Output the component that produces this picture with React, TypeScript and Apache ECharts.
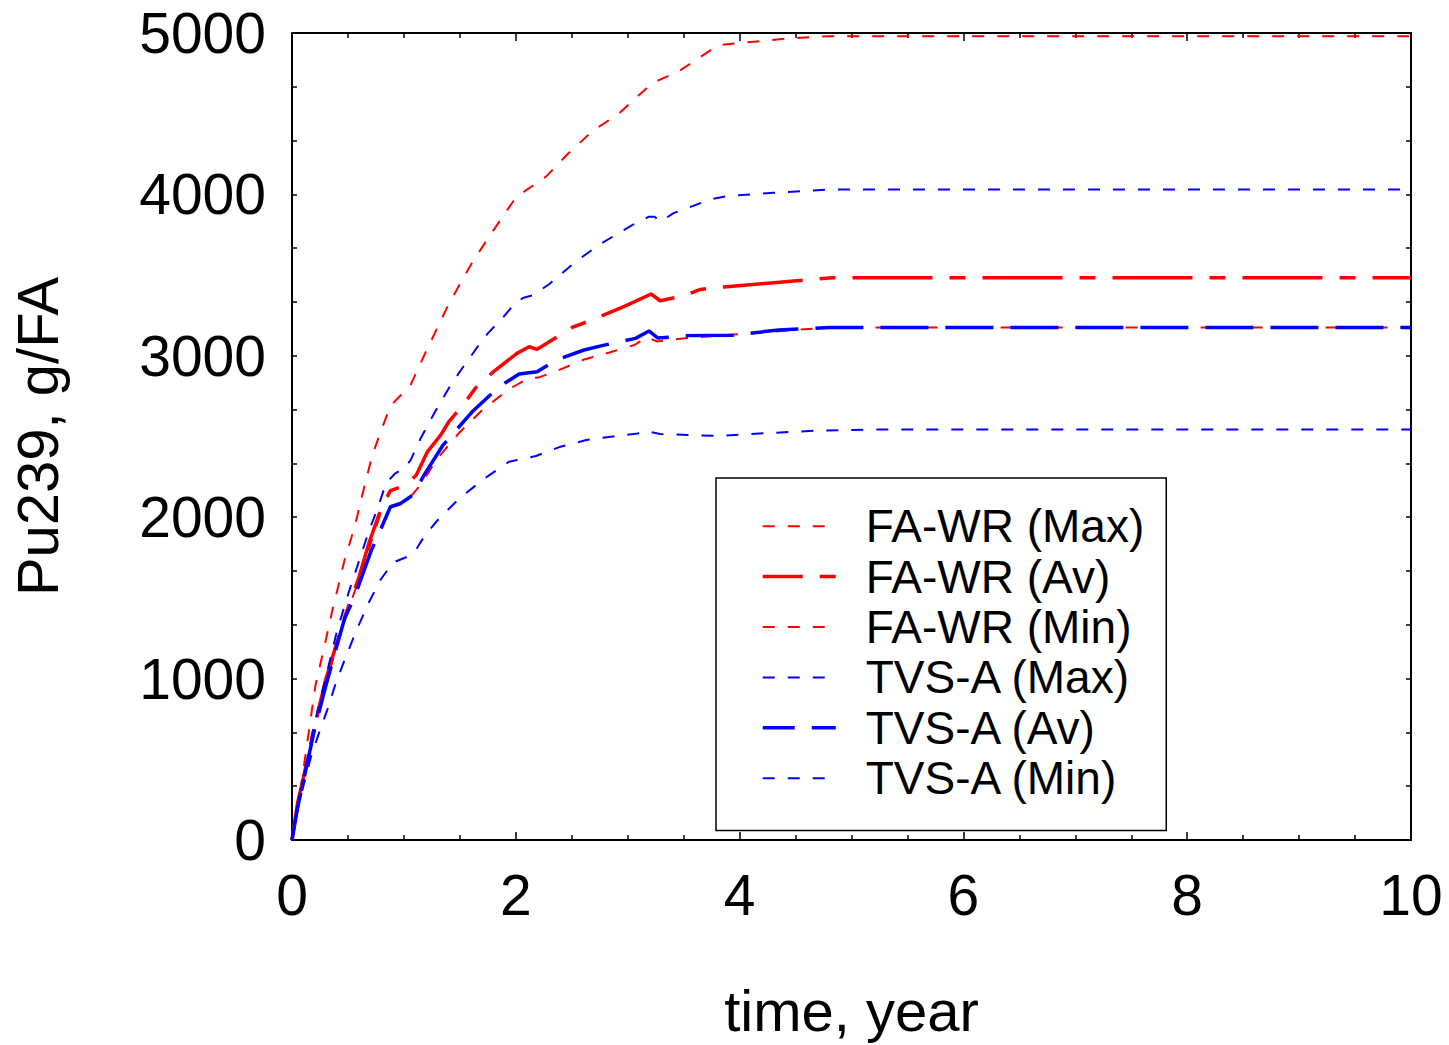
import React, { useEffect, useRef } from "react";
import * as echarts from "echarts";

// time (year), Pu239 (g/FA)
const faWrMax: [number, number][] = [
  [0, 0], [0.08, 330], [0.15, 670], [0.21, 960], [0.28, 1170], [0.36, 1420], [0.47, 1735],
  [0.56, 1940], [0.65, 2200], [0.72, 2390], [0.82, 2580], [0.88, 2690], [0.95, 2740],
  [1.06, 2820], [1.2, 3030], [1.4, 3320], [1.62, 3590], [1.88, 3860], [2.0, 3980],
  [2.1, 4030], [2.27, 4110], [2.47, 4255], [2.69, 4395], [2.92, 4500], [3.22, 4690],
  [3.45, 4760], [3.81, 4925], [4.41, 4965], [4.8, 4980], [10, 4980],
];
const faWrAv: [number, number][] = [
  [0, 0], [0.05, 230], [0.1, 380], [0.2, 700], [0.3, 990], [0.4, 1220], [0.48, 1400],
  [0.59, 1610], [0.69, 1845], [0.8, 2060], [0.88, 2165], [1.02, 2200], [1.11, 2260],
  [1.21, 2405], [1.33, 2510], [1.4, 2590], [1.54, 2705], [1.64, 2800], [1.79, 2895],
  [2.01, 3015], [2.12, 3056], [2.19, 3040], [2.51, 3178], [2.67, 3219], [2.97, 3306],
  [3.21, 3383], [3.29, 3341], [3.49, 3370], [3.65, 3411], [3.86, 3427], [4.83, 3484],
  [10, 3484],
];
const faWrMin: [number, number][] = [
  [0, 0], [0.05, 220], [0.1, 370], [0.2, 680], [0.3, 960], [0.4, 1200], [0.5, 1420],
  [0.6, 1620], [0.7, 1830], [0.8, 2040], [0.88, 2060], [0.97, 2080], [1.05, 2120],
  [1.15, 2200], [1.29, 2355], [1.49, 2520], [1.7, 2664], [1.93, 2788], [2.04, 2833],
  [2.12, 2860], [2.2, 2865], [2.37, 2907], [2.61, 2977], [2.83, 3019], [3.06, 3067],
  [3.17, 3117], [3.26, 3089], [3.53, 3110], [3.8, 3125], [4.8, 3175], [10, 3175],
];
const tvsAMax: [number, number][] = [
  [0, 0], [0.05, 200], [0.1, 380], [0.2, 720], [0.3, 1000], [0.4, 1290], [0.5, 1520],
  [0.6, 1730], [0.68, 1900], [0.77, 2065], [0.84, 2210], [0.92, 2270], [1.0, 2302],
  [1.06, 2354], [1.15, 2489], [1.27, 2643], [1.4, 2798], [1.51, 2912], [1.67, 3067],
  [1.75, 3139], [1.87, 3226], [2.0, 3330], [2.07, 3360], [2.16, 3377], [2.3, 3445],
  [2.52, 3575], [2.74, 3686], [3.04, 3810], [3.19, 3862], [3.24, 3862], [3.29, 3831],
  [3.41, 3884], [3.74, 3969], [3.89, 3990], [4.3, 4010], [4.78, 4030], [10, 4030],
];
const tvsAAv: [number, number][] = [
  [0, 0], [0.05, 200], [0.1, 360], [0.2, 680], [0.3, 950], [0.4, 1200], [0.47, 1372],
  [0.56, 1508], [0.71, 1797], [0.79, 1921], [0.88, 2065], [0.97, 2085], [1.08, 2137],
  [1.18, 2261], [1.35, 2447], [1.48, 2550], [1.61, 2653], [1.85, 2808], [2.03, 2887],
  [2.19, 2901], [2.36, 2974], [2.61, 3036], [2.77, 3063], [3.07, 3108], [3.19, 3154],
  [3.27, 3110], [3.53, 3125], [3.94, 3128], [4.35, 3160], [4.8, 3175], [10, 3175],
];
const tvsAMin: [number, number][] = [
  [0, 0], [0.02, 100], [0.1, 330], [0.17, 516], [0.24, 661], [0.32, 815], [0.39, 970],
  [0.47, 1115], [0.57, 1290], [0.69, 1476], [0.79, 1611], [0.9, 1718], [0.97, 1738],
  [1.05, 1760], [1.11, 1800], [1.18, 1879], [1.29, 1973], [1.49, 2113], [1.72, 2240],
  [1.94, 2344], [2.18, 2379], [2.4, 2437], [2.63, 2478], [2.85, 2499], [3.09, 2519],
  [3.16, 2535], [3.29, 2515], [3.83, 2503], [4.07, 2515], [4.66, 2535], [5.2, 2544],
  [10, 2544],
];

const seriesNames = [
  "FA-WR (Max)", "FA-WR (Av)", "FA-WR (Min)",
  "TVS-A (Max)", "TVS-A (Av)", "TVS-A (Min)",
];
const xTitle = "time, year";
const yTitle = "Pu239, g/FA";

const RED = "#ff0000";
const BLUE = "#0000ff";
const FONT = "Liberation Sans, Arial, sans-serif";

export default function App() {
  const ref = useRef<HTMLDivElement>(null);
  useEffect(() => {
    if (!ref.current) return;
    const chart = echarts.init(ref.current, undefined, { renderer: "svg" });
    const thin = [12, 13];
    const avRed = [80, 17, 16, 17];
    const avBlue = [48, 17];
    const dataSets = [faWrMax, faWrAv, faWrMin, tvsAMax, tvsAAv, tvsAMin];
    const styles = [
      { color: RED, width: 2, type: thin },
      { color: RED, width: 3.5, type: avRed },
      { color: RED, width: 2, type: thin },
      { color: BLUE, width: 2, type: thin },
      { color: BLUE, width: 3.5, type: avBlue },
      { color: BLUE, width: 2, type: thin },
    ];
    const legendDash = [thin, [40, 17, 16, 17], thin, thin, [32, 17], thin];
    const axisCommon = {
      axisLine: { show: true, onZero: false, lineStyle: { color: "#000", width: 2 } },
      splitLine: { show: false },
    };
    const labelStyle = { color: "#000", fontSize: 57, fontFamily: FONT };
    const titleStyle = { color: "#000", fontSize: 58, fontFamily: FONT };
    chart.setOption({
      animation: false,
      backgroundColor: "#fff",
      grid: { left: 291, top: 33, right: 38, bottom: 205, containLabel: false },
      legend: {
        orient: "vertical",
        left: 716,
        top: 478,
        padding: [23, 22, 27, 45],
        borderColor: "#000",
        borderWidth: 1.5,
        itemWidth: 73,
        itemHeight: 14,
        itemGap: 0,
        selectedMode: false,
        textStyle: {
          color: "#000",
          fontSize: 46,
          fontFamily: FONT,
          lineHeight: 50.4,
          padding: [0, 0, 0, 25],
        },
        data: seriesNames.map((n, i) => ({
          name: n,
          itemStyle: { opacity: 0 },
          lineStyle: { type: legendDash[i], width: styles[i].width, color: styles[i].color, cap: "butt" },
        })),
      },
      xAxis: [
        {
          type: "value",
          min: 0,
          max: 10,
          interval: 2,
          position: "bottom",
          ...axisCommon,
          axisTick: { show: true, inside: true, length: 8, lineStyle: { color: "#000", width: 1.5 } },
          minorTick: { show: true, splitNumber: 4, length: 5, lineStyle: { color: "#000", width: 1.5 } },
          axisLabel: { ...labelStyle, margin: 26, formatter: (v: number) => String(v) },
          name: xTitle,
          nameLocation: "middle",
          nameGap: 141,
          nameTextStyle: titleStyle,
        },
        {
          type: "value",
          min: 0,
          max: 10,
          interval: 2,
          position: "top",
          ...axisCommon,
          axisTick: { show: true, inside: true, length: 8, lineStyle: { color: "#000", width: 1.5 } },
          minorTick: { show: true, splitNumber: 4, length: 5, lineStyle: { color: "#000", width: 1.5 } },
          axisLabel: { show: false },
        },
      ],
      yAxis: [
        {
          type: "value",
          min: 0,
          max: 5000,
          interval: 1000,
          position: "left",
          ...axisCommon,
          axisTick: { show: true, inside: true, length: 5, lineStyle: { color: "#000", width: 1.5 } },
          minorTick: { show: true, splitNumber: 3, length: 5, lineStyle: { color: "#000", width: 1.5 } },
          axisLabel: { ...labelStyle, margin: 26, formatter: (v: number) => String(v) },
          name: yTitle,
          nameLocation: "middle",
          nameGap: 226,
          nameTextStyle: titleStyle,
        },
        {
          type: "value",
          min: 0,
          max: 5000,
          interval: 1000,
          position: "right",
          ...axisCommon,
          axisTick: { show: true, inside: true, length: 5, lineStyle: { color: "#000", width: 1.5 } },
          minorTick: { show: true, splitNumber: 3, length: 5, lineStyle: { color: "#000", width: 1.5 } },
          axisLabel: { show: false },
        },
      ],
      series: dataSets.map((d, i) => ({
        name: seriesNames[i],
        type: "line",
        data: d,
        xAxisIndex: 0,
        yAxisIndex: 0,
        symbol: "none",
        showSymbol: false,
        smooth: false,
        clip: true,
        color: styles[i].color,
        lineStyle: { color: styles[i].color, width: styles[i].width, type: styles[i].type, cap: "butt" },
      })),
    });
    return () => chart.dispose();
  }, []);
  return (
    <div
      ref={ref}
      style={{ position: "fixed", left: 0, top: 0, width: 1449, height: 1045, background: "#fff" }}
    />
  );
}
